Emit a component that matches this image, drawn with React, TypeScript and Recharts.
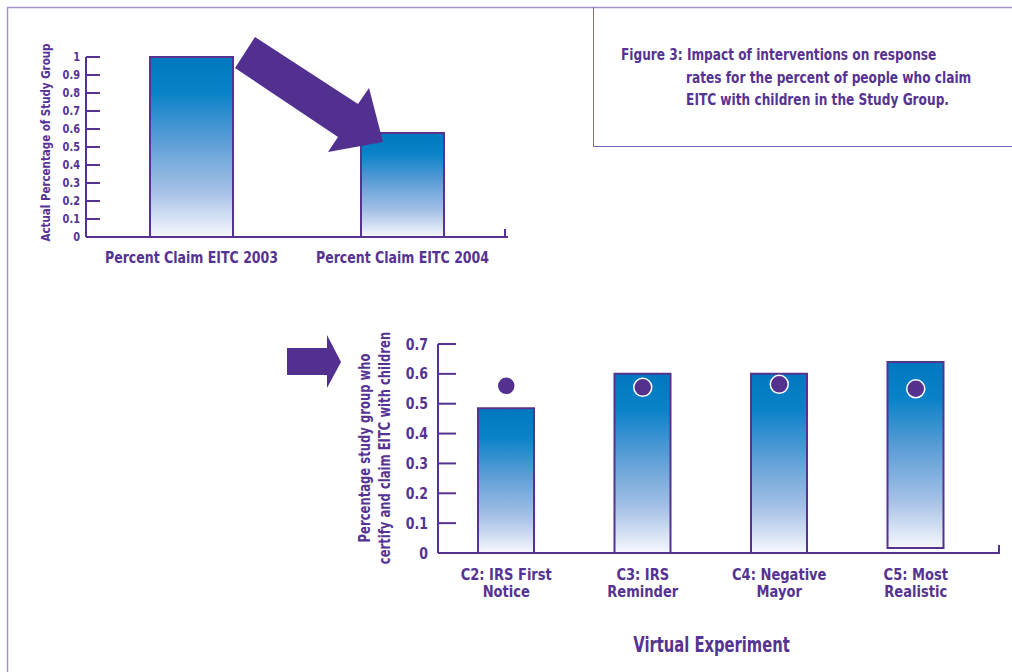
import React from 'react';
import { BarChart, ComposedChart, Bar, Line, XAxis, YAxis, Label } from 'recharts';

// top chart: share of study group claiming EITC
const yearCats = ['Percent Claim EITC 2003', 'Percent Claim EITC 2004'];
const yearVals = [1.0, 0.578];
const topTicks = [0, 0.1, 0.2, 0.3, 0.4, 0.5, 0.6, 0.7, 0.8, 0.9, 1];

// bottom chart: virtual experiment
const expCats = ['C2: IRS First\nNotice', 'C3: IRS\nReminder', 'C4: Negative\nMayor', 'C5: Most\nRealistic'];
const expLow = [0, 0, 0, 0.017];
const expHigh = [0.485, 0.6, 0.6, 0.64];
const expDots = [0.56, 0.555, 0.565, 0.55];
const bottomTicks = [0, 0.1, 0.2, 0.3, 0.4, 0.5, 0.6, 0.7];

const PURPLE = '#55338f';
const TEXT = '#553393';
const FONT = "'Liberation Sans Narrow', 'DejaVu Sans Condensed', 'Roboto Condensed', 'Arial Narrow', sans-serif";

const topData = yearCats.map((name, i) => ({ name, value: yearVals[i] }));
const bottomData = expCats.map((name, i) => ({ name, range: [expLow[i], expHigh[i]], dot: expDots[i] }));

const Gradient = ({ id }: { id: string }) => (
  <defs>
    <linearGradient id={id} x1="0" y1="0" x2="0" y2="1">
      <stop offset="0%" stopColor="#0077be" />
      <stop offset="20%" stopColor="#0a82c8" />
      <stop offset="45%" stopColor="#579cd5" />
      <stop offset="75%" stopColor="#a6c1e6" />
      <stop offset="100%" stopColor="#f7f8fd" />
    </linearGradient>
  </defs>
);

const makeYTick = (gap: number, len: number, fs: number, sx: number) => (props: any) => {
  const { x, y, payload } = props;
  return (
    <g>
      <line x1={x + gap} x2={x + gap + len} y1={y} y2={y} stroke={PURPLE} strokeWidth={2} />
      <text
        transform={`translate(${x} ${y}) scale(${sx} 1)`}
        dy={fs * 0.36}
        textAnchor="end"
        fontSize={fs}
        fontWeight="bold"
        fill={TEXT}
        fontFamily={FONT}
      >
        {String(payload.value)}
      </text>
    </g>
  );
};

const makeXTick = (dy: number, lh: number, fs: number, sx: number) => (props: any) => {
  const { x, y, payload } = props;
  const lines = String(payload.value).split('\n');
  return (
    <text
      transform={`translate(${x} ${y}) scale(${sx} 1)`}
      textAnchor="middle"
      fontSize={fs}
      fontWeight="bold"
      fill={TEXT}
      fontFamily={FONT}
    >
      {lines.map((l, i) => (
        <tspan key={i} x={0} y={dy + i * lh}>{l}</tspan>
      ))}
    </text>
  );
};

const axisTitle = (text: string, dx: number, dy: number) => (props: any) => {
  const { viewBox } = props;
  const cx = viewBox.x + viewBox.width / 2 + dx;
  return (
    <text
      transform={`translate(${cx} ${viewBox.y + dy}) scale(0.78 1)`}
      textAnchor="middle"
      fontSize={21}
      fontWeight="bold"
      fill={TEXT}
      fontFamily={FONT}
    >
      {text}
    </text>
  );
};

const Overlay = () => (
  <svg width={1012} height={672} style={{ position: 'absolute', left: 0, top: 0, pointerEvents: 'none' }}>
    {/* page frame */}
    <line x1={7} y1={7.5} x2={1012} y2={7.5} stroke="#a593cc" strokeWidth={1.5} />
    <line x1={7.5} y1={7} x2={7.5} y2={672} stroke="#a593cc" strokeWidth={1.5} />
    {/* caption box */}
    <line x1={593.5} y1={7} x2={593.5} y2={146} stroke="#7b64b6" strokeWidth={1} />
    <line x1={593} y1={146.5} x2={1012} y2={146.5} stroke="#7b64b6" strokeWidth={1} />
    {/* axis end ticks */}
    <line x1={505} y1={229} x2={505} y2={238} stroke={PURPLE} strokeWidth={2} />
    <line x1={999} y1={545} x2={999} y2={554} stroke={PURPLE} strokeWidth={2} />
    {/* arrows */}
    <polygon points="255,37 358,104 369,88 383,142 328,152 338,137 235,68" fill="#52308f" />
    <polygon points="287,348 327,348 327,335 341,362 327,388 327,375 287,375" fill="#52308f" />
  </svg>
);

const App: React.FC = () => {
  return (
    <div style={{ position: 'absolute', left: 0, top: 0, width: 1012, height: 672, background: '#fff', overflow: 'hidden', fontFamily: FONT }}>
      <div style={{ position: 'absolute', left: 0, top: 0 }}>
        <BarChart width={520} height={280} data={topData} margin={{ top: 57, right: 12, left: 56, bottom: 13 }}>
          <Gradient id="gTop" />
          <XAxis
            dataKey="name"
            height={30}
            tickLine={false}
            tickSize={0}
            tickMargin={0}
            axisLine={{ stroke: PURPLE, strokeWidth: 2 }}
            tick={makeXTick(26, 16, 15.5, 0.9)}
            interval={0}
          />
          <YAxis
            width={30}
            domain={[0, 1]}
            ticks={topTicks}
            tickLine={false}
            tickSize={0}
            tickMargin={6}
            axisLine={{ stroke: PURPLE, strokeWidth: 2 }}
            tick={makeYTick(6, 14, 11.5, 0.95)}
            interval={0}
          />
          <Bar dataKey="value" barSize={83} fill="url(#gTop)" stroke={PURPLE} strokeWidth={2} isAnimationActive={false} />
        </BarChart>
      </div>
      <div
        style={{
          position: 'absolute', left: 30, top: 42, width: 30, height: 200, display: 'flex',
          alignItems: 'center', justifyContent: 'center',
        }}
      >
        <div style={{ transform: 'rotate(-90deg) scaleX(0.88)', whiteSpace: 'nowrap', fontSize: 13, fontWeight: 'bold', color: TEXT }}>
          Actual Percentage of Study Group
        </div>
      </div>

      <div style={{ position: 'absolute', left: 280, top: 320 }}>
        <ComposedChart width={732} height={352} data={bottomData} margin={{ top: 24, right: 13, left: 128, bottom: 9 }}>
          <Gradient id="gBottom" />
          <XAxis
            dataKey="name"
            height={110}
            tickLine={false}
            tickSize={0}
            tickMargin={0}
            padding={{ left: 0, right: 15 }}
            axisLine={{ stroke: PURPLE, strokeWidth: 2 }}
            tick={makeXTick(27, 17.5, 16.5, 0.88)}
            interval={0}
          >
            <Label content={axisTitle('Virtual Experiment', -7, 99)} />
          </XAxis>
          <YAxis
            width={30}
            domain={[0, 0.7]}
            ticks={bottomTicks}
            tickLine={false}
            tickSize={0}
            tickMargin={10}
            axisLine={{ stroke: PURPLE, strokeWidth: 2 }}
            tick={makeYTick(10, 18, 15.5, 0.9)}
            interval={0}
          />
          <Bar dataKey="range" barSize={56} fill="url(#gBottom)" stroke={PURPLE} strokeWidth={2} isAnimationActive={false} />
          <Line
            dataKey="dot"
            stroke="none"
            isAnimationActive={false}
            activeDot={false}
            dot={{ r: 9, fill: '#55318f', stroke: '#fff', strokeWidth: 1.5 }}
          />
        </ComposedChart>
      </div>
      <div
        style={{
          position: 'absolute', left: 350, top: 330, width: 50, height: 235, display: 'flex',
          alignItems: 'center', justifyContent: 'center',
        }}
      >
        <div style={{ transform: 'rotate(-90deg) scaleX(0.86)', whiteSpace: 'nowrap', fontSize: 15, fontWeight: 'bold', color: TEXT, textAlign: 'center', lineHeight: '20px' }}>
          Percentage study group who<br />certify and claim EITC with children
        </div>
      </div>

      <div
        style={{
          position: 'absolute', left: 621, top: 44, fontSize: 16, fontWeight: 'bold', color: TEXT,
          lineHeight: '22.5px', whiteSpace: 'nowrap', transform: 'scaleX(0.845)', transformOrigin: '0 0',
        }}
      >
        <div>Figure 3: Impact of interventions on response</div>
        <div style={{ paddingLeft: 77 }}>rates for the percent of people who claim</div>
        <div style={{ paddingLeft: 77 }}>EITC with children in the Study Group.</div>
      </div>

      <Overlay />
    </div>
  );
};

export default App;
